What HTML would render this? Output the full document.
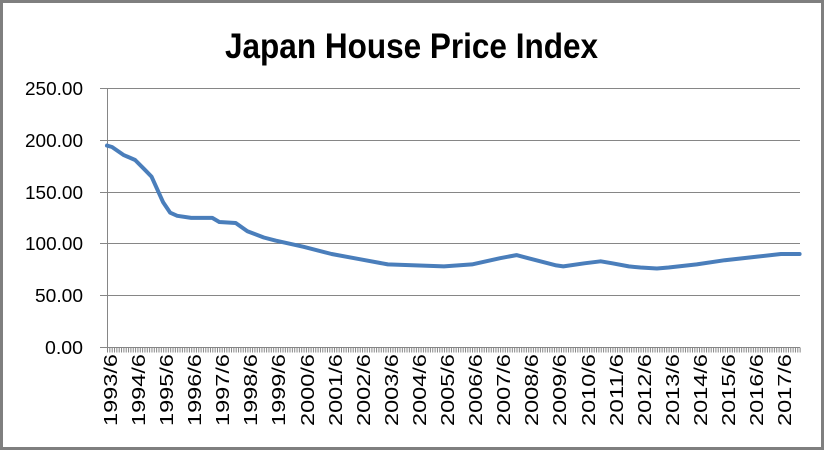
<!DOCTYPE html>
<html><head><meta charset="utf-8"><style>
html,body{margin:0;padding:0;background:#fff;}
svg{display:block;}
text{font-family:"Liberation Sans",sans-serif;}
</style></head><body>
<svg width="825" height="451" viewBox="0 0 825 451" xmlns="http://www.w3.org/2000/svg">
<rect x="0" y="0" width="825" height="451" fill="#fff"/>
<rect x="1.5" y="1.5" width="821" height="447" fill="none" stroke="#7f7f7f" stroke-width="3"/>
<text x="411.5" y="58" font-size="35" font-weight="bold" text-anchor="middle" textLength="373" lengthAdjust="spacingAndGlyphs">Japan House Price Index</text>
<g stroke="#868686" stroke-width="1">
<line x1="107" y1="88.5" x2="800" y2="88.5"/>
<line x1="107" y1="140.5" x2="800" y2="140.5"/>
<line x1="107" y1="192.5" x2="800" y2="192.5"/>
<line x1="107" y1="243.5" x2="800" y2="243.5"/>
<line x1="107" y1="295.5" x2="800" y2="295.5"/>
<line x1="107" y1="347.5" x2="800" y2="347.5"/>
<line x1="107.5" y1="88" x2="107.5" y2="352"/>
<line x1="100" y1="88.5" x2="107" y2="88.5"/>
<line x1="100" y1="140.5" x2="107" y2="140.5"/>
<line x1="100" y1="192.5" x2="107" y2="192.5"/>
<line x1="100" y1="243.5" x2="107" y2="243.5"/>
<line x1="100" y1="295.5" x2="107" y2="295.5"/>
<line x1="100" y1="347.5" x2="107" y2="347.5"/>
</g>
<line x1="107" y1="350" x2="801" y2="350" stroke="#868686" stroke-width="5" stroke-dasharray="1 1.34"/>
<g font-size="18" text-anchor="end" fill="#000">
<text x="83" y="95" textLength="58" lengthAdjust="spacingAndGlyphs">250.00</text>
<text x="83" y="147" textLength="58" lengthAdjust="spacingAndGlyphs">200.00</text>
<text x="83" y="199" textLength="58" lengthAdjust="spacingAndGlyphs">150.00</text>
<text x="83" y="250" textLength="58" lengthAdjust="spacingAndGlyphs">100.00</text>
<text x="83" y="302" textLength="48" lengthAdjust="spacingAndGlyphs">50.00</text>
<text x="83" y="354" textLength="38" lengthAdjust="spacingAndGlyphs">0.00</text>
</g>
<g font-size="18" text-anchor="end" fill="#000">
<text transform="translate(117,354) rotate(-90)" textLength="72" lengthAdjust="spacingAndGlyphs">1993/6</text>
<text transform="translate(145,354) rotate(-90)" textLength="72" lengthAdjust="spacingAndGlyphs">1994/6</text>
<text transform="translate(173,354) rotate(-90)" textLength="72" lengthAdjust="spacingAndGlyphs">1995/6</text>
<text transform="translate(201,354) rotate(-90)" textLength="72" lengthAdjust="spacingAndGlyphs">1996/6</text>
<text transform="translate(229,354) rotate(-90)" textLength="72" lengthAdjust="spacingAndGlyphs">1997/6</text>
<text transform="translate(257,354) rotate(-90)" textLength="72" lengthAdjust="spacingAndGlyphs">1998/6</text>
<text transform="translate(285,354) rotate(-90)" textLength="72" lengthAdjust="spacingAndGlyphs">1999/6</text>
<text transform="translate(314,354) rotate(-90)" textLength="72" lengthAdjust="spacingAndGlyphs">2000/6</text>
<text transform="translate(342,354) rotate(-90)" textLength="72" lengthAdjust="spacingAndGlyphs">2001/6</text>
<text transform="translate(370,354) rotate(-90)" textLength="72" lengthAdjust="spacingAndGlyphs">2002/6</text>
<text transform="translate(398,354) rotate(-90)" textLength="72" lengthAdjust="spacingAndGlyphs">2003/6</text>
<text transform="translate(426,354) rotate(-90)" textLength="72" lengthAdjust="spacingAndGlyphs">2004/6</text>
<text transform="translate(454,354) rotate(-90)" textLength="72" lengthAdjust="spacingAndGlyphs">2005/6</text>
<text transform="translate(482,354) rotate(-90)" textLength="72" lengthAdjust="spacingAndGlyphs">2006/6</text>
<text transform="translate(510,354) rotate(-90)" textLength="72" lengthAdjust="spacingAndGlyphs">2007/6</text>
<text transform="translate(538,354) rotate(-90)" textLength="72" lengthAdjust="spacingAndGlyphs">2008/6</text>
<text transform="translate(566,354) rotate(-90)" textLength="72" lengthAdjust="spacingAndGlyphs">2009/6</text>
<text transform="translate(595,354) rotate(-90)" textLength="72" lengthAdjust="spacingAndGlyphs">2010/6</text>
<text transform="translate(623,354) rotate(-90)" textLength="72" lengthAdjust="spacingAndGlyphs">2011/6</text>
<text transform="translate(651,354) rotate(-90)" textLength="72" lengthAdjust="spacingAndGlyphs">2012/6</text>
<text transform="translate(679,354) rotate(-90)" textLength="72" lengthAdjust="spacingAndGlyphs">2013/6</text>
<text transform="translate(707,354) rotate(-90)" textLength="72" lengthAdjust="spacingAndGlyphs">2014/6</text>
<text transform="translate(735,354) rotate(-90)" textLength="72" lengthAdjust="spacingAndGlyphs">2015/6</text>
<text transform="translate(763,354) rotate(-90)" textLength="72" lengthAdjust="spacingAndGlyphs">2016/6</text>
<text transform="translate(791,354) rotate(-90)" textLength="72" lengthAdjust="spacingAndGlyphs">2017/6</text>
</g>
<polyline fill="none" stroke="#4a7ebb" stroke-width="4" stroke-linejoin="round" stroke-linecap="round"
points="107,145.6 112,147 123.4,154.9 135.1,160 144.4,169.3 151.5,176.6 158.5,192.1 163.2,202.4 170.2,212.7 177.2,215.8 191.2,217.9 212.3,217.9 219.3,222 235.7,223 247.4,231.3 263.8,237.5 275.5,240.6 303.6,246.8 331.6,254 359.7,259.2 387.8,264.4 415.9,265.4 444,266.4 472,264.4 500.1,258.2 516.5,255.1 528.2,258.2 556.3,265.4 563.3,266.4 584.4,263.3 600.7,261.3 612.4,263.3 628.8,266.4 640.5,267.5 656.9,268.5 668.6,267.5 696.7,264.4 724.8,260.2 752.8,257.1 780.9,254 799.6,254"/>
</svg>
</body></html>
